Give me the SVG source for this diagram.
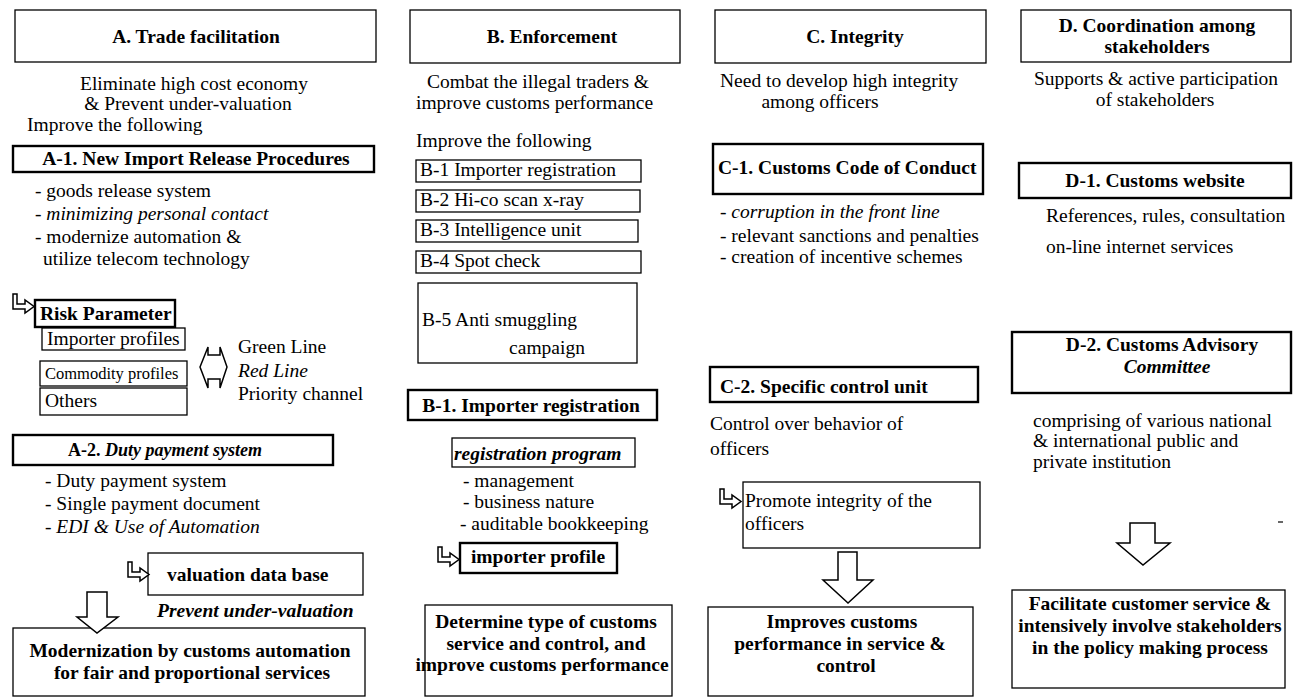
<svg xmlns="http://www.w3.org/2000/svg" xmlns:xlink="http://www.w3.org/1999/xlink" width="1293" height="698" viewBox="0 0 1293 698">
  <style>
    text { font-family: "Liberation Serif", "Times New Roman", serif; font-size: 19.5px; fill: #000; }
    .b { font-weight: bold; }
    .i { font-style: italic; }
    .m { text-anchor: middle; }
    .sm { font-size: 16.5px; }
    .box { fill: #fff; stroke: #000; stroke-width: 1.3; }
    .thick { stroke-width: 2.4; }
    .arrow { fill: #fff; stroke: #000; stroke-width: 1.5; stroke-linejoin: miter; }
  </style>
  <defs>
    <!-- small hollow elbow arrow: down then right -->
    <path id="elbow" class="arrow" d="M0,0 H4 V10 H12 V6 L21,12.5 L12,19 V15 H0 Z"/>
  </defs>
  <rect width="1293" height="698" fill="#fff"/>

  <!-- ===== Column A: Trade facilitation ===== -->
  <g id="a-title">
    <rect class="box" x="15" y="10" width="361" height="52"/>
    <text class="b m" x="196" y="43">A. Trade facilitation</text>
  </g>
  <g id="a-goal">
    <text class="m" x="194" y="90">Eliminate high cost economy</text>
    <text class="m" x="188" y="110">&amp; Prevent under-valuation</text>
    <text x="27" y="131">Improve the following</text>
  </g>
  <g id="a1">
    <rect class="box thick" x="13" y="146" width="361" height="26"/>
    <text class="b m" x="196" y="165">A-1. New Import Release Procedures</text>
    <text x="35" y="197">- goods release system</text>
    <text class="i" x="35" y="220">- minimizing personal contact</text>
    <text x="35" y="243">- modernize automation &amp;</text>
    <text x="43" y="265">utilize telecom technology</text>
  </g>
  <g id="a-risk">
    <rect class="box thick" x="35" y="300" width="140" height="27"/>
    <text class="b" x="40" y="320">Risk Parameter</text>
  </g>
  <g id="a-importer-profiles">
    <rect class="box" x="42" y="328" width="143" height="22"/>
    <text x="47" y="345">Importer profiles</text>
  </g>
  <g id="a-commodity-profiles">
    <rect class="box" x="40" y="361" width="147" height="25"/>
    <text class="sm" x="45" y="379">Commodity profiles</text>
  </g>
  <g id="a-others">
    <rect class="box" x="40" y="388" width="147" height="27"/>
    <text x="45" y="407">Others</text>
  </g>
  <g id="a-lines">
    <text x="238" y="353">Green Line</text>
    <text class="i" x="238" y="377">Red Line</text>
    <text x="238" y="400">Priority channel</text>
  </g>
  <g id="a2">
    <rect class="box thick" x="13" y="435" width="320" height="30"/>
    <text class="b m" x="165" y="456" style="font-size:18px">A-2.  <tspan class="i">Duty payment system</tspan></text>
    <text x="45" y="487">- Duty payment system</text>
    <text x="45" y="510">- Single payment document</text>
    <text class="i" x="45" y="533">- EDI &amp; Use of Automation</text>
  </g>
  <g id="a-valuation">
    <rect class="box" x="148" y="553" width="215" height="42"/>
    <text class="b" x="167" y="581">valuation data base</text>
    <text class="b i" x="157" y="617">Prevent under-valuation</text>
  </g>
  <g id="a-result">
    <rect class="box" x="13" y="628" width="352" height="68"/>
    <text class="b m" x="190" y="657">Modernization by customs automation</text>
    <text class="b m" x="192" y="679">for fair and proportional services</text>
  </g>

  <!-- ===== Column B: Enforcement ===== -->
  <g id="b-title">
    <rect class="box" x="410" y="10" width="270" height="53"/>
    <text class="b m" x="552" y="43">B. Enforcement</text>
  </g>
  <g id="b-goal">
    <text x="427" y="88">Combat the illegal traders &amp;</text>
    <text x="416" y="109">improve customs performance</text>
    <text x="416" y="147">Improve the following</text>
  </g>
  <g id="b-list">
    <rect class="box" x="416" y="160" width="225" height="22"/>
    <text x="420" y="176">B-1 Importer registration</text>
    <rect class="box" x="416" y="190" width="224" height="22"/>
    <text x="420" y="206">B-2 Hi-co scan x-ray</text>
    <rect class="box" x="416" y="220" width="222" height="22"/>
    <text x="420" y="236">B-3 Intelligence unit</text>
    <rect class="box" x="416" y="251" width="225" height="22"/>
    <text x="420" y="267">B-4 Spot check</text>
    <rect class="box" x="418" y="283" width="219" height="80"/>
    <text x="422" y="326">B-5 Anti smuggling</text>
    <text class="m" x="547" y="354">campaign</text>
  </g>
  <g id="b1">
    <rect class="box thick" x="408" y="390" width="249" height="30"/>
    <text class="b m" x="531" y="412">B-1. Importer registration</text>
  </g>
  <g id="b-program">
    <rect class="box" x="452" y="438" width="183" height="29"/>
    <text class="b i" x="454" y="460">registration program</text>
    <text x="463" y="487">- management</text>
    <text x="463" y="508">- business nature</text>
    <text x="460" y="530">- auditable bookkeeping</text>
  </g>
  <g id="b-profile">
    <rect class="box thick" x="460" y="543" width="157" height="30"/>
    <text class="b m" x="538" y="563">importer profile</text>
  </g>
  <g id="b-result">
    <rect class="box" x="425" y="605" width="247" height="91"/>
    <text class="b m" x="546" y="628">Determine type of customs</text>
    <text class="b m" x="546" y="650">service and control, and</text>
    <text class="b m" x="542" y="671">improve customs performance</text>
  </g>

  <!-- ===== Column C: Integrity ===== -->
  <g id="c-title">
    <rect class="box" x="715" y="10" width="271" height="53"/>
    <text class="b m" x="855" y="43">C. Integrity</text>
  </g>
  <g id="c-goal">
    <text x="720" y="87">Need to develop high integrity</text>
    <text class="m" x="820" y="108">among officers</text>
  </g>
  <g id="c1">
    <rect class="box thick" x="713" y="144" width="270" height="50"/>
    <text class="b" x="718" y="174">C-1. Customs Code of Conduct</text>
    <text class="i" x="720" y="218">- corruption in the front line</text>
    <text x="720" y="242">- relevant sanctions and penalties</text>
    <text x="720" y="263">- creation of incentive schemes</text>
  </g>
  <g id="c2">
    <rect class="box thick" x="710" y="367" width="268" height="35"/>
    <text class="b" x="720" y="393">C-2. Specific control unit</text>
    <text x="710" y="430">Control over behavior of</text>
    <text x="710" y="455">officers</text>
  </g>
  <g id="c-promote">
    <rect class="box" x="743" y="482" width="237" height="66"/>
    <text x="745" y="507">Promote integrity of the</text>
    <text x="745" y="530">officers</text>
  </g>
  <g id="c-result">
    <rect class="box" x="708" y="607" width="265" height="89"/>
    <text class="b m" x="842" y="628">Improves customs</text>
    <text class="b m" x="840" y="650">performance in service &amp;</text>
    <text class="b m" x="846" y="672">control</text>
  </g>

  <!-- ===== Column D: Coordination among stakeholders ===== -->
  <g id="d-title">
    <rect class="box" x="1021" y="10" width="270" height="52"/>
    <text class="b m" x="1157" y="32">D. Coordination among</text>
    <text class="b m" x="1157" y="53">stakeholders</text>
  </g>
  <g id="d-goal">
    <text class="m" x="1156" y="85">Supports &amp; active participation</text>
    <text class="m" x="1155" y="106">of stakeholders</text>
  </g>
  <g id="d1">
    <rect class="box thick" x="1019" y="163" width="272" height="35"/>
    <text class="b m" x="1155" y="187">D-1.  Customs website</text>
    <text x="1046" y="222">References, rules, consultation</text>
    <text x="1046" y="253">on-line internet services</text>
  </g>
  <g id="d2">
    <rect class="box thick" x="1012" y="332" width="279" height="61"/>
    <text class="b m" x="1162" y="351">D-2. Customs Advisory</text>
    <text class="b i m" x="1167" y="373">Committee</text>
    <text x="1033" y="427">comprising of various national</text>
    <text x="1033" y="447">&amp; international public and</text>
    <text x="1033" y="468">private institution</text>
  </g>
  <line x1="1278" y1="522" x2="1283" y2="522" stroke="#000" stroke-width="1.2"/>
  <g id="d-result">
    <rect class="box" x="1012" y="590" width="273" height="98"/>
    <text class="b m" x="1150" y="610">Facilitate customer service &amp;</text>
    <text class="b m" x="1150" y="632">intensively involve stakeholders</text>
    <text class="b m" x="1150" y="654">in the policy making process</text>
  </g>

  <!-- ===== Connectors: hollow arrows ===== -->
  <g id="connectors">
    <use xlink:href="#elbow" href="#elbow" x="13" y="294"/>
    <use xlink:href="#elbow" href="#elbow" x="128" y="562"/>
    <use xlink:href="#elbow" href="#elbow" x="438" y="547"/>
    <use xlink:href="#elbow" href="#elbow" x="720" y="489"/>
    <!-- two-way arrow between profiles and channels -->
    <path class="arrow" d="M200,367 L208,347 V355 H220 V347 L227,367 L220,388 V379 H208 V388 Z"/>
    <!-- downward block arrows -->
    <path class="arrow" d="M87,592 H107 V617 H118 L97,633 L77,617 H87 Z"/>
    <path class="arrow" d="M838,552 H857 V580 H873 L848,603 L823,580 H838 Z"/>
    <path class="arrow" d="M1130,523 H1155 V543 H1170 L1143,565 L1117,543 H1130 Z"/>
  </g>
</svg>
